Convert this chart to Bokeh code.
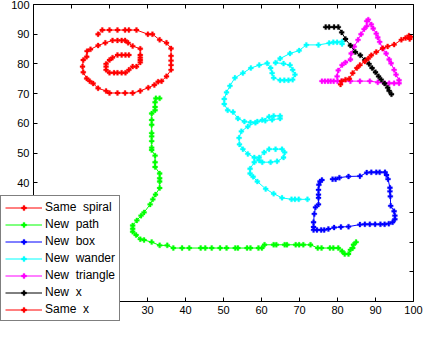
from bokeh.plotting import figure
from bokeh.models import Range1d, LinearAxis, FixedTicker, Legend, LegendItem
from bokeh.embed import file_html
from bokeh.resources import INLINE

# ---- data ----
series_names = ["Same  spiral", "New  path", "New  box", "New  wander", "New  triangle", "New  x", "Same  x"]
series_colors = ["#ff0000", "#00ff00", "#0000ff", "#00ffff", "#ff00ff", "#000000", "#ff0000"]

spiral_x = [17.0, 18.1, 20.0, 22.1, 24.1, 25.1, 27.1, 30.1, 31.3, 33.2, 35.0, 36.2, 36.2, 36.2, 36.2, 36.2,
            35.0, 33.7, 32.8, 31.8, 30.2, 28.1, 26.1, 24.1, 22.1, 20.0, 19.1, 17.0, 15.7, 14.8, 14.0, 13.1,
            12.9, 13.1, 14.0, 14.1, 15.0, 17.0, 18.9, 20.8, 22.1, 23.2, 24.1, 24.9, 26.1, 28.1, 28.1, 28.1,
            28.1, 28.1, 27.1, 26.1, 25.1, 24.2, 23.2, 22.1, 21.2, 20.0, 19.1, 19.1, 19.1, 20.0, 20.8, 22.1,
            23.2, 24.2, 25.1]
spiral_y = [90.0, 91.4, 91.4, 91.4, 91.4, 91.4, 91.4, 90.0, 90.0, 88.1, 87.1, 85.2, 82.7, 81.1, 79.6, 78.0,
            75.8, 74.2, 74.0, 72.9, 72.0, 70.9, 70.2, 70.2, 70.2, 70.2, 70.9, 71.8, 73.4, 74.2, 75.1, 77.2,
            79.1, 81.3, 82.4, 84.3, 84.9, 86.2, 87.1, 87.9, 87.9, 87.9, 87.9, 87.1, 86.0, 85.1, 83.0, 82.1,
            81.3, 80.5, 79.1, 79.1, 78.0, 77.0, 77.0, 77.0, 77.0, 77.0, 78.0, 79.1, 80.0, 81.3, 82.1, 83.0,
            83.0, 83.0, 83.0]

path_x = [33.2, 32.2, 32.0, 32.0, 32.0, 31.1, 31.1, 31.1, 31.1, 31.1, 31.1, 31.1, 31.1, 32.0, 32.0, 32.0,
          33.2, 33.2, 33.2, 33.2, 32.1, 31.4, 30.7, 29.1, 28.3, 27.2, 26.1, 26.1, 26.1, 27.0, 28.1, 29.1,
          31.1, 33.2, 35.2, 36.8, 39.1, 41.0, 44.0, 45.2, 46.9, 49.1, 50.8, 53.1, 53.8, 56.2, 57.1, 59.2,
          60.1, 60.8, 63.2, 63.9, 66.1, 66.7, 69.0, 69.9, 71.0, 72.9, 74.8, 75.8, 78.0, 78.9, 80.2, 81.2,
          81.9, 82.9, 83.4, 84.0, 84.2, 84.9]
path_y = [68.4, 68.4, 67.1, 65.5, 64.4, 63.3, 61.1, 59.5, 56.7, 55.6, 54.0, 51.8, 51.0, 49.1, 46.9, 45.3,
          43.1, 41.5, 40.4, 38.2, 36.0, 34.4, 32.7, 30.0, 28.9, 27.3, 25.6, 24.5, 23.5, 22.4, 21.0, 20.7,
          20.0, 18.9, 18.9, 18.0, 18.0, 18.0, 18.0, 18.0, 18.0, 18.0, 18.0, 18.0, 18.0, 18.0, 18.0, 18.0,
          18.0, 19.1, 19.1, 19.1, 19.1, 19.1, 19.1, 19.1, 19.1, 19.1, 18.0, 18.0, 18.0, 18.0, 18.0, 16.9,
          16.0, 16.0, 17.4, 18.0, 19.1, 20.0]

box_x = [78.7, 79.5, 80.5, 82.9, 85.9, 87.7, 88.9, 90.2, 91.1, 92.5, 92.9, 93.3, 93.8, 93.8, 93.9, 94.0,
         94.9, 95.1, 95.1, 94.5, 93.5, 92.4, 91.3, 89.9, 88.5, 87.2, 85.9, 82.9, 80.9, 79.1, 77.6, 76.5,
         75.7, 74.6, 73.7, 73.7, 73.7, 73.9, 74.2, 75.0, 75.0, 75.0, 75.0, 75.1, 75.4, 75.9]
box_y = [41.2, 41.2, 41.7, 42.1, 42.2, 43.4, 43.5, 43.5, 43.5, 43.5, 42.6, 41.2, 38.3, 37.1, 35.4, 32.2,
         30.4, 28.9, 27.7, 26.7, 26.2, 26.0, 26.0, 26.0, 26.0, 26.0, 25.9, 25.2, 25.1, 24.9, 24.4, 24.1,
         24.1, 24.1, 24.1, 25.1, 26.7, 29.5, 31.7, 32.7, 34.9, 36.0, 37.6, 39.3, 40.4, 40.9]

wander_x = [81.2, 81.2, 79.9, 78.9, 77.8, 75.0, 71.8, 69.9, 67.5, 64.9, 63.7, 65.8, 67.5, 68.2, 68.8, 68.2,
            67.1, 66.0, 64.9, 63.2, 62.8, 62.4, 61.5, 59.4, 57.2, 55.1, 53.0, 51.7, 50.8, 50.2, 50.2, 51.1,
            52.5, 53.8, 55.5, 57.1, 58.9, 61.0, 62.8, 64.9, 64.9, 63.2, 62.0, 60.2, 58.4, 56.4, 54.7, 54.1,
            54.2, 55.1, 56.4, 58.1, 59.4, 60.2, 62.4, 64.1, 65.8, 66.1, 65.4, 63.7, 62.0, 60.7, 59.4, 58.1,
            57.0, 57.0, 57.8, 58.9, 61.1, 63.2, 65.4, 67.9, 68.8, 69.8, 72.1]
wander_y = [86.7, 87.5, 87.3, 87.3, 87.0, 86.4, 86.4, 84.5, 83.5, 81.8, 80.4, 80.1, 79.6, 78.0, 76.4, 74.7,
            74.5, 74.5, 74.5, 75.3, 76.9, 78.6, 80.2, 79.6, 78.6, 76.9, 75.3, 72.6, 70.4, 68.2, 66.5, 64.4,
            63.8, 61.6, 60.6, 60.3, 60.6, 60.9, 61.2, 61.6, 62.5, 62.5, 62.2, 61.1, 60.2, 58.9, 57.3, 55.1,
            52.9, 51.3, 49.7, 48.5, 47.5, 46.9, 46.9, 47.2, 48.5, 50.2, 51.3, 51.3, 51.3, 50.2, 48.5, 46.9,
            44.7, 43.1, 42.0, 40.4, 37.9, 36.3, 34.9, 34.4, 34.4, 34.4, 34.4]

tri_x = [75.9, 76.7, 77.5, 78.2, 79.0, 80.0, 81.1, 83.4, 85.9, 88.5, 90.6, 92.4, 93.6, 94.9, 96.2, 96.2,
         95.4, 94.9, 94.1, 93.6, 92.8, 91.9, 91.1, 90.6, 90.2, 89.4, 88.9, 88.1, 87.7, 87.7, 87.0, 86.2,
         85.4, 84.4, 83.6, 83.4, 82.1, 81.2, 80.2, 79.9]
tri_y = [74.2, 74.2, 74.2, 74.2, 74.2, 74.2, 74.2, 74.2, 74.2, 74.2, 73.8, 73.5, 73.5, 73.5, 73.5, 74.5,
         76.4, 78.0, 80.2, 81.5, 83.5, 85.1, 87.4, 88.9, 90.2, 91.9, 93.3, 94.9, 94.4, 92.7, 91.7, 90.0,
         88.1, 85.8, 83.5, 81.5, 80.5, 79.6, 77.8, 75.8]

newx_x = [76.9, 77.8, 79.1, 80.2, 81.1, 82.1, 83.4, 84.7, 86.0, 87.2, 88.3, 89.1, 90.0, 90.8, 91.5, 92.4,
          93.2, 93.6, 94.2]
newx_y = [92.4, 92.4, 92.4, 92.4, 90.6, 88.4, 86.2, 84.0, 82.9, 81.3, 80.0, 78.6, 77.2, 75.8, 74.7, 73.4,
          72.0, 70.9, 69.8]

samex_x = [80.8, 81.1, 82.1, 83.1, 84.0, 85.1, 85.9, 87.2, 88.1, 88.9, 90.2, 91.9, 93.2, 94.9, 96.8, 97.9,
           98.8, 99.3, 99.0]
samex_y = [73.1, 74.2, 74.7, 75.0, 76.9, 78.6, 79.6, 80.8, 81.8, 82.9, 84.0, 85.3, 85.9, 86.5, 88.1, 88.7,
           89.5, 89.1, 88.4]

tick_values = [0, 10, 20, 30, 40, 50, 60, 70, 80, 90, 100]
axis_min, axis_max = 0, 100

all_x = [spiral_x, path_x, box_x, wander_x, tri_x, newx_x, samex_x]
all_y = [spiral_y, path_y, box_y, wander_y, tri_y, newx_y, samex_y]

# ---- layout (pixels inside the canvas) ----
W, H = 423, 323
BOX_L, BOX_R = 33, 413      # x pixel of axis_min / axis_max
BOX_T, BOX_B = 4, 301       # y pixel of axis_max / axis_min
sx = (BOX_R - BOX_L) / (axis_max - axis_min)
sy = (BOX_B - BOX_T) / (axis_max - axis_min)
x_range = Range1d(axis_min - BOX_L / sx, axis_max + (W - BOX_R) / sx)
y_range = Range1d(axis_min - (H - BOX_B) / sy, axis_max + BOX_T / sy)

FONT = "Liberation Sans"
p = figure(width=W, height=H, output_backend="svg", toolbar_location=None, title=None,
           x_range=x_range, y_range=y_range, x_axis_location=None, y_axis_location=None,
           min_border=0, min_border_left=0, min_border_right=0, min_border_top=0, min_border_bottom=0)
p.grid.visible = False
p.outline_line_color = None
p.background_fill_color = "white"
p.border_fill_color = "white"


def make_axis(loc, show_labels):
    ax = LinearAxis(ticker=FixedTicker(ticks=tick_values), fixed_location=loc,
                    bounds=(axis_min, axis_max), major_tick_in=4, major_tick_out=0,
                    minor_tick_line_color=None, axis_line_color="#000000",
                    major_tick_line_color="#000000", major_label_standoff=4,
                    major_label_text_font=FONT, major_label_text_font_size="11px")
    ax.major_label_text_color = "#000000" if show_labels else None
    return ax


p.add_layout(make_axis(axis_min, True), "below")
p.add_layout(make_axis(axis_min, True), "left")
p.add_layout(make_axis(axis_max, False), "above")
p.add_layout(make_axis(axis_max, False), "right")

items = []
for name, color, xs, ys in zip(series_names, series_colors, all_x, all_y):
    lr = p.line(xs, ys, line_color=color, line_width=1)
    sr = p.scatter(xs, ys, marker="plus", size=5, fill_color=color, line_color=color, line_width=0.3)
    items.append(LegendItem(label=name, renderers=[lr, sr]))

legend = Legend(items=items, location=(0, 2), orientation="vertical",
                border_line_color="#000000", border_line_width=1, background_fill_color="white",
                background_fill_alpha=1.0, label_text_font=FONT, label_text_font_size="12px",
                label_text_color="#000000", glyph_width=37, glyph_height=13, label_height=13,
                spacing=3, padding=4, margin=0, label_standoff=3)
p.add_layout(legend, "center")

open("out.html", "w").write(file_html(p, INLINE))
